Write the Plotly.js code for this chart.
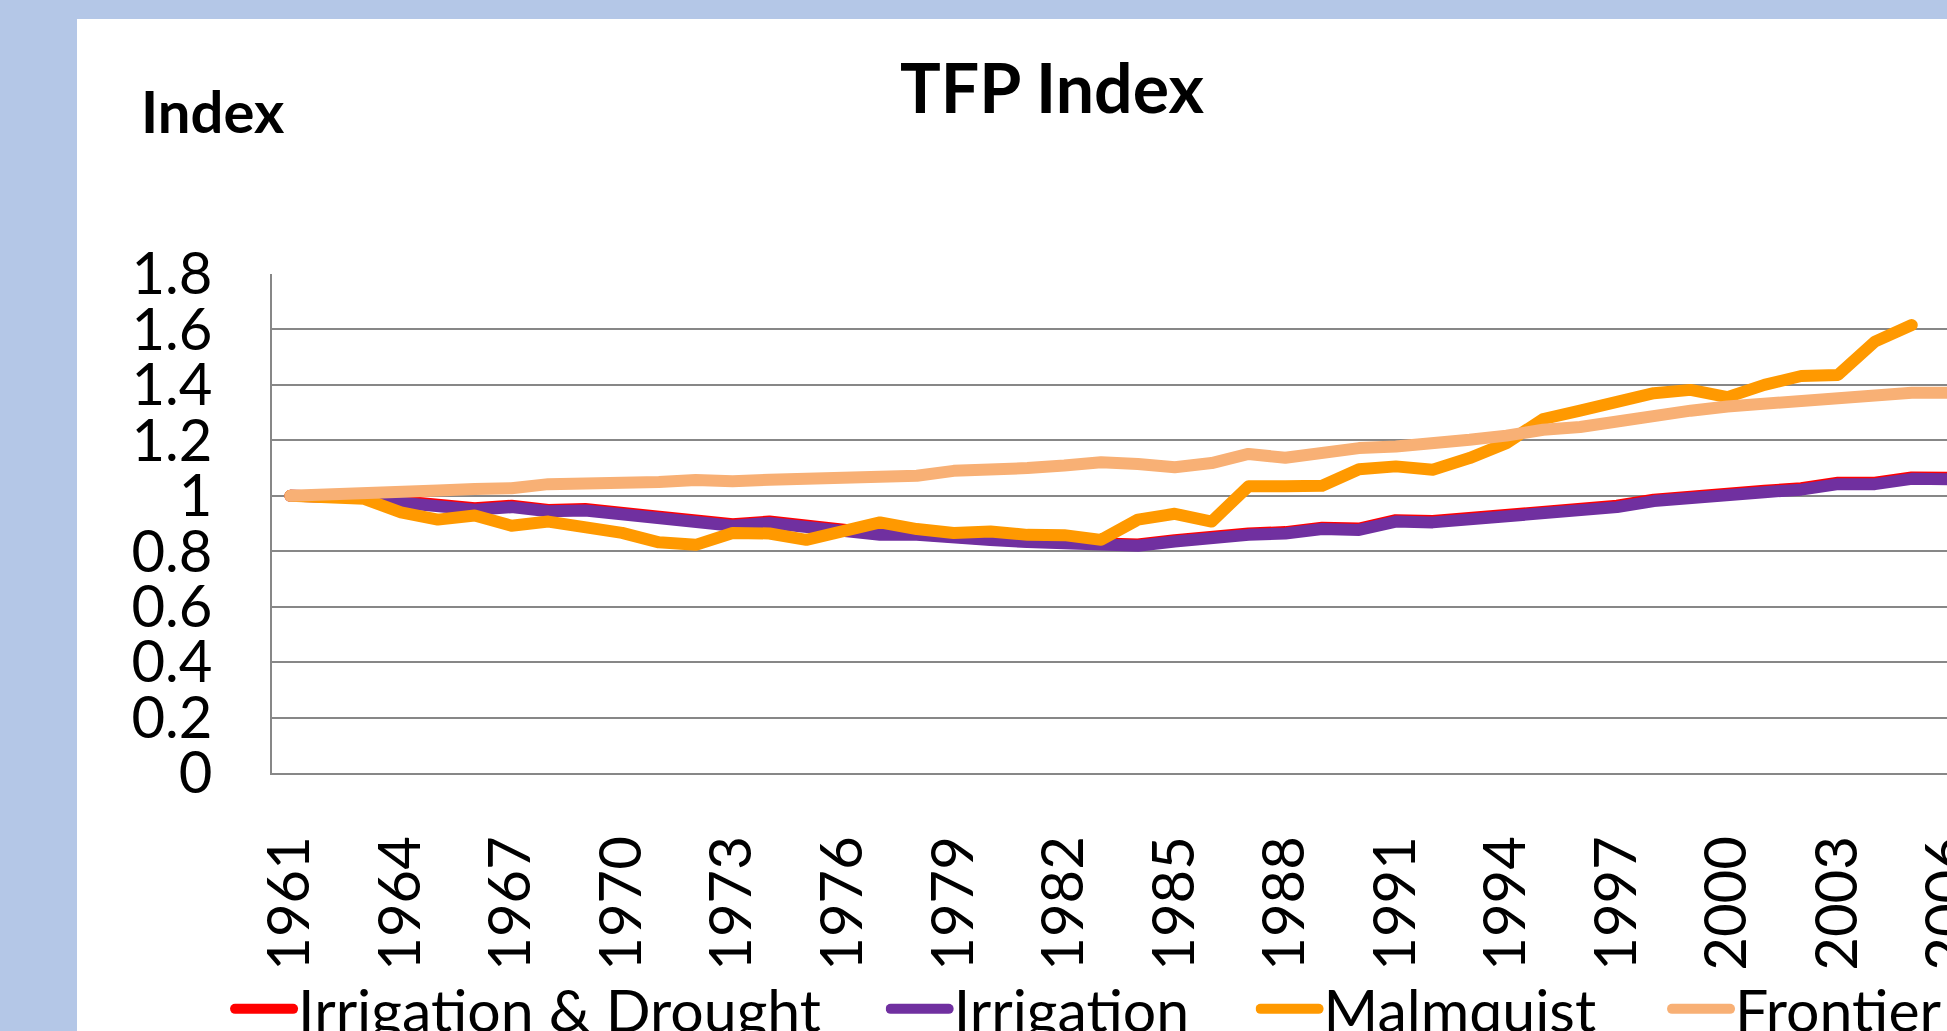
<!DOCTYPE html>
<html>
<head>
<meta charset="utf-8">
<script src="https://cdn.plot.ly/plotly-3.0.1.min.js"></script>
<style>
  html, body { margin: 0; padding: 0; width: 1947px; height: 1031px; overflow: hidden; background: #B4C7E7; }
  #chart { position: absolute; left: 77px; top: 19px; width: 1950px; height: 1100px; }
  #chart .scatterlayer path.js-line { stroke-linecap: round; stroke-linejoin: round; }
  #chart g.legendlines path { stroke-linecap: round; stroke-width: 10px !important; }
</style>
</head>
<body>
<div id="chart"></div>
<script>
// ---- data ----
const years = [1961,1962,1963,1964,1965,1966,1967,1968,1969,1970,
               1971,1972,1973,1974,1975,1976,1977,1978,1979,1980,
               1981,1982,1983,1984,1985,1986,1987,1988,1989,1990,
               1991,1992,1993,1994,1995,1996,1997,1998,1999,2000,
               2001,2002,2003,2004,2005,2006];

const irrigationDrought = [1.000,0.996,0.995,0.980,0.964,0.955,0.964,0.949,0.952,0.937,
                           0.931,0.907,0.897,0.907,0.890,0.871,0.863,0.862,0.849,0.843,
                           0.836,0.833,0.830,0.824,0.840,0.855,0.864,0.869,0.885,0.882,
                           0.912,0.909,0.919,0.937,0.945,0.957,0.964,0.986,1.000,1.009,
                           1.018,1.027,1.047,1.047,1.066,1.065];

const irrigation = [1.000,0.995,0.994,0.975,0.959,0.950,0.959,0.944,0.947,0.932,
                    0.926,0.902,0.892,0.902,0.885,0.866,0.859,0.859,0.846,0.840,
                    0.833,0.830,0.827,0.820,0.835,0.850,0.859,0.864,0.880,0.877,
                    0.907,0.904,0.914,0.932,0.940,0.952,0.959,0.981,0.995,1.004,
                    1.013,1.022,1.042,1.042,1.061,1.060];

const malmquist = [1.000,0.992,0.989,0.940,0.914,0.929,0.892,0.907,0.887,0.866,
                   0.832,0.823,0.866,0.864,0.841,0.871,0.904,0.880,0.866,0.871,
                   0.859,0.858,0.841,0.914,0.935,0.907,1.034,1.034,1.036,1.096,
                   1.106,1.094,1.136,1.190,1.277,1.307,1.340,1.370,1.382,1.356,
                   1.400,1.432,1.436,1.556,1.616,null];

const frontier = [1.000,1.007,1.012,1.015,1.019,1.024,1.027,1.042,1.042,1.043,
                  1.050,1.057,1.052,1.058,1.062,1.058,1.070,1.072,1.090,1.092,
                  1.100,1.109,1.121,1.115,1.103,1.118,1.151,1.137,1.156,1.172,
                  1.178,1.187,1.202,1.217,1.238,1.248,1.270,1.290,1.307,1.322,
                  1.334,1.346,1.348,1.366,1.372,1.372];

const seriesNames = ['Irrigation & Drought', 'Irrigation', 'Malmquist', 'Frontier'];
const xTickVals = [1961,1964,1967,1970,1973,1976,1979,1982,1985,1988,1991,1994,1997,2000,2003,2006];
const yTickVals = [0,0.2,0.4,0.6,0.8,1,1.2,1.4,1.6,1.8];
const yTickText = ['0','0.2','0.4','0.6','0.8','1','1.2','1.4','1.6','1.8'];

// ---- styling ----
const FONT = 'Lato, "Open Sans", sans-serif';
const colors = ['#FF0000', '#7030A0', '#FF9900', '#F8B075'];
const values = [irrigationDrought, irrigation, malmquist, frontier];
const legendIds = ['legend', 'legend2', 'legend3', 'legend4'];
const legendX = [0.0785, 0.4147, 0.6044, 0.8154];

const traces = values.map((v, i) => ({
  type: 'scatter',
  mode: 'lines',
  x: years,
  y: v,
  name: seriesNames[i],
  legend: legendIds[i],
  line: { color: colors[i], width: 12 },
  connectgaps: false,
  hoverinfo: 'skip'
}));

const legendBase = {
  orientation: 'h',
  xref: 'container', yref: 'container',
  xanchor: 'left', yanchor: 'middle',
  y: 1 - 990 / 1100,
  itemwidth: 58,
  bgcolor: 'rgba(0,0,0,0)',
  borderwidth: 0,
  font: { family: FONT, size: 59, color: '#000000' }
};

const layout = {
  width: 1950,
  height: 1100,
  paper_bgcolor: '#FFFFFF',
  plot_bgcolor: '#FFFFFF',
  margin: { l: 195, r: 60, t: 255, b: 345.5 },
  font: { family: FONT, color: '#000000' },
  title: {
    text: '<b>TFP Index</b>',
    font: { family: FONT, size: 68, color: '#000000' },
    xref: 'container', yref: 'container',
    x: 0.5, xanchor: 'center',
    y: 1 - 70.3 / 1100, yanchor: 'middle'
  },
  xaxis: {
    type: 'linear',
    range: [1960.5, 2006.5],
    tickmode: 'array',
    tickvals: xTickVals,
    ticktext: xTickVals.map(String),
    tickangle: -90,
    tickfont: { family: FONT, size: 58, color: '#000000' },
    ticks: '',
    ticklabelstandoff: 38,
    showgrid: false,
    zeroline: false,
    showline: true,
    linecolor: '#878787',
    linewidth: 2,
    fixedrange: true
  },
  yaxis: {
    range: [0, 1.8],
    tickmode: 'array',
    tickvals: yTickVals,
    ticktext: yTickText,
    tickfont: { family: FONT, size: 58, color: '#000000' },
    ticks: '',
    ticklabelstandoff: 46,
    showgrid: true,
    gridcolor: '#878787',
    gridwidth: 2,
    zeroline: false,
    showline: true,
    linecolor: '#878787',
    linewidth: 2,
    fixedrange: true
  },
  annotations: [{
    text: '<b>Index</b>',
    xref: 'paper', yref: 'paper',
    x: (62 - 195) / 1695, xanchor: 'left',
    y: (754.5 - 91.3) / 499.5, yanchor: 'middle',
    showarrow: false,
    font: { family: FONT, size: 58, color: '#000000' }
  }],
  showlegend: true
};

legendIds.forEach((id, i) => {
  layout[id] = Object.assign({}, legendBase, { x: legendX[i] });
});

Plotly.newPlot('chart', traces, layout, { staticPlot: true, displayModeBar: false });
</script>
</body>
</html>
